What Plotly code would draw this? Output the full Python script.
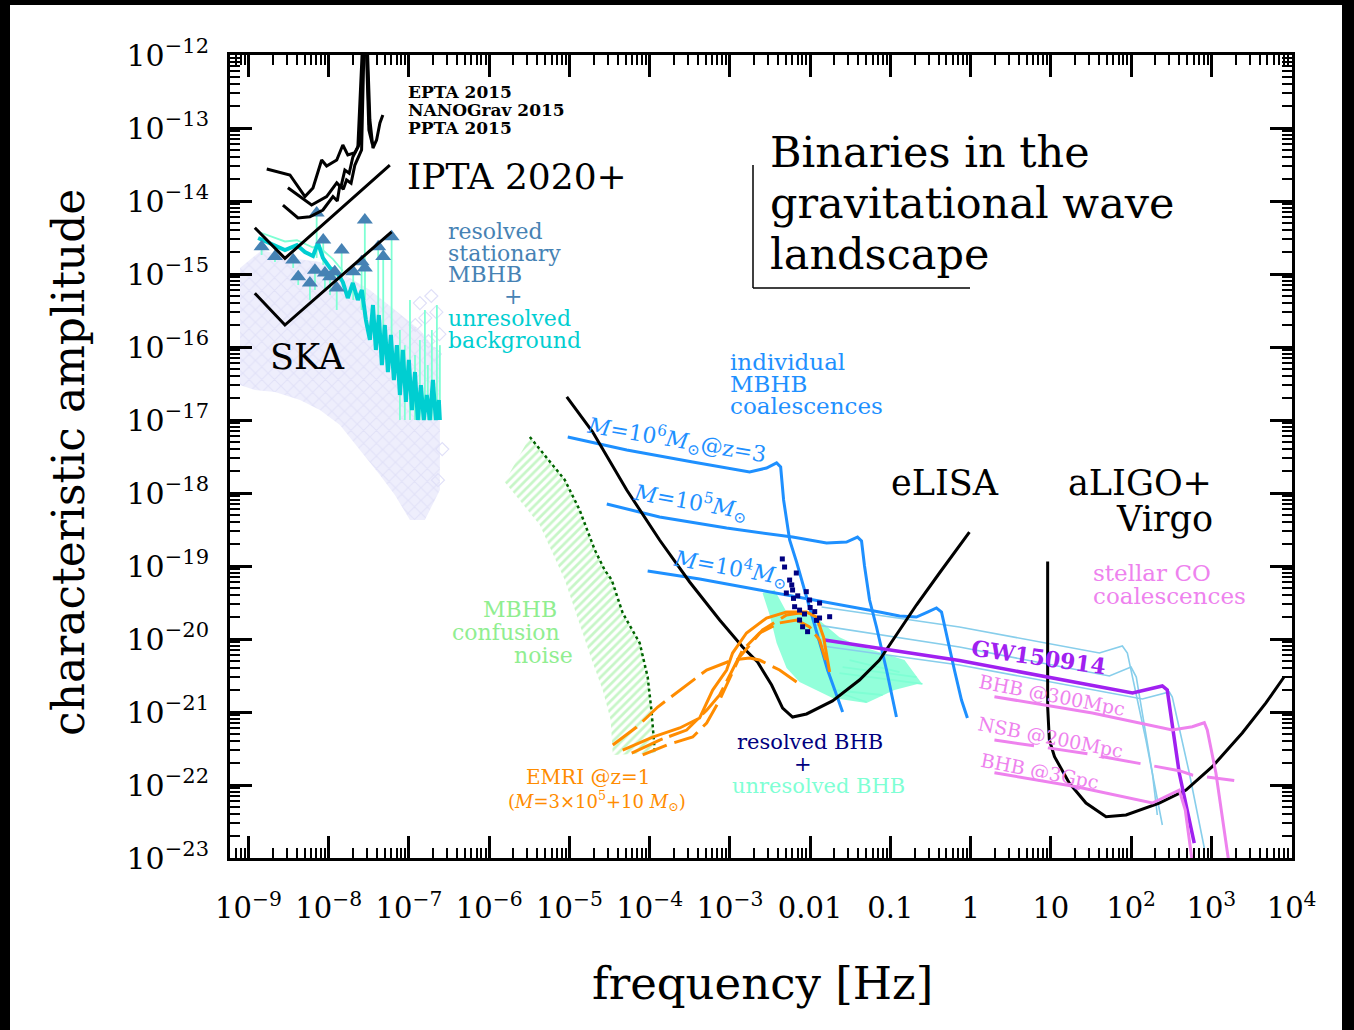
import plotly.graph_objects as go

W, H = 1354, 1030
L, R, T, B = 230, 62, 55, 172
FONT = "DejaVu Serif"

# ---------------- axis ticks ----------------
x_tick_vals = [1e-9, 1e-8, 1e-7, 1e-6, 1e-5, 1e-4, 1e-3, 1e-2, 1e-1, 1, 10, 100, 1e3, 1e4]
x_tick_text = ["10<sup>−9</sup>", "10<sup>−8</sup>", "10<sup>−7</sup>", "10<sup>−6</sup>", "10<sup>−5</sup>",
               "10<sup>−4</sup>", "10<sup>−3</sup>", "0.01", "0.1", "1", "10", "10<sup>2</sup>",
               "10<sup>3</sup>", "10<sup>4</sup>"]
y_tick_vals = [1e-12, 1e-13, 1e-14, 1e-15, 1e-16, 1e-17, 1e-18, 1e-19, 1e-20, 1e-21, 1e-22, 1e-23]
y_tick_text = ["10<sup>−12</sup>", "10<sup>−13</sup>", "10<sup>−14</sup>", "10<sup>−15</sup>", "10<sup>−16</sup>",
               "10<sup>−17</sup>", "10<sup>−18</sup>", "10<sup>−19</sup>", "10<sup>−20</sup>", "10<sup>−21</sup>",
               "10<sup>−22</sup>", "10<sup>−23</sup>"]

# ---------------- PTA limits ----------------
epta_f = [1.69e-9, 3.29e-9, 5.06e-9, 6.37e-9, 8.17e-9, 9.42e-9, 1.26e-8, 1.50e-8, 1.73e-8, 2.12e-8,
          2.45e-8, 2.75e-8, 2.99e-8, 3.26e-8, 3.56e-8, 3.95e-8, 4.35e-8, 4.73e-8]
epta_h = [2.74e-14, 2.27e-14, 1.15e-14, 1.51e-14, 3.65e-14, 3.02e-14, 3.65e-14, 5.85e-14, 4.27e-14, 4.59e-14,
          6.22e-14, 2e-12, 2e-12, 1.29e-13, 5.32e-14, 6.85e-14, 1.17e-13, 1.51e-13]
nanograv_f = [3.10e-9, 6.12e-9, 9.42e-9, 1.26e-8, 1.42e-8, 1.59e-8, 1.80e-8, 2.00e-8, 2.31e-8, 2.68e-8, 2.90e-8, 3.17e-8, 3.5e-8]
nanograv_h = [1.52e-14, 8.81e-15, 1.15e-14, 1.77e-14, 1.55e-14, 2.66e-14, 2.4e-14, 4.01e-14, 5.50e-14, 2e-12, 2e-12, 9.4e-14, 6.0e-14]
ppta_f = [2.69e-9, 4.14e-9, 5.83e-9, 8.47e-9, 1.13e-8, 1.28e-8, 1.38e-8, 1.52e-8, 1.67e-8, 1.90e-8, 2.12e-8, 2.57e-8, 2.78e-8, 2.95e-8, 3.2e-8]
ppta_h = [8.81e-15, 5.85e-15, 6.09e-15, 7.53e-15, 1.15e-14, 1.0e-14, 1.66e-14, 1.45e-14, 1.94e-14, 1.75e-14, 3.11e-14, 5.0e-14, 2e-12, 2e-12, 1.1e-13]

ipta_f = [1.20e-9, 2.85e-9, 5.78e-8]
ipta_h = [4.31e-15, 1.64e-15, 3.11e-14]
ska_f = [1.20e-9, 2.85e-9, 6.08e-8]
ska_h = [5.45e-16, 2.0e-16, 3.79e-15]

# ---------------- PTA-band MBHB population ----------------
cloud_f = [7.85e-10, 1.47e-9, 3.29e-9, 7.78e-9, 1.59e-8, 3.26e-8, 6.68e-8, 1.37e-7, 2.43e-7,
           2.43e-7, 1.58e-7, 1.03e-7, 6.68e-8, 4.35e-8, 2.45e-8, 1.38e-8, 7.78e-9, 4.39e-9, 2.14e-9, 1.20e-9, 7.85e-10]
cloud_h = [1.21e-15, 2.13e-15, 1.66e-15, 1.46e-15, 9.7e-16, 6.04e-16, 3.21e-16, 1.71e-16, 7.76e-17,
           1.10e-18, 4.27e-19, 4.27e-19, 9.4e-19, 1.77e-18, 3.88e-18, 8.55e-18, 1.37e-17, 1.88e-17, 2.42e-17, 2.58e-17, 3.01e-17]
diam_f = [1.2e-7, 1.37e-7, 1.6e-7, 1.9e-7, 2.2e-7, 2.4e-7, 2.1e-7, 1.75e-7, 2.6e-7, 2.3e-7]
diam_h = [2.0e-16, 4.0e-16, 2.5e-16, 5.0e-16, 3.0e-16, 1.5e-16, 8.0e-17, 1.2e-16, 4e-18, 1.5e-18]

bkg_f = [1.32e-9, 1.85e-9, 2.85e-9, 4.02e-9, 5.06e-9, 6.37e-9, 7.35e-9, 8.47e-9, 1.04e-8, 1.26e-8, 1.50e-8,
         1.73e-8, 2.0e-8, 2.31e-8, 2.59e-8, 2.91e-8, 3.26e-8, 3.56e-8, 3.87e-8, 4.22e-8, 4.60e-8, 5.01e-8,
         5.47e-8, 5.96e-8, 6.49e-8, 7.08e-8, 7.71e-8, 8.40e-8, 9.16e-8, 9.98e-8, 1.09e-7, 1.19e-7, 1.29e-7,
         1.41e-7, 1.53e-7, 1.67e-7, 1.82e-7, 1.99e-7, 2.16e-7, 2.36e-7, 2.43e-7]
bkg_h = [3.11e-15, 2.66e-15, 2.13e-15, 2.49e-15, 2.0e-15, 1.76e-15, 2.66e-15, 1.66e-15, 1.21e-15, 1.06e-15, 7.76e-16,
         4.69e-16, 7.53e-16, 4.41e-16, 6.04e-16, 2.34e-16, 1.25e-16, 3.76e-16, 9.10e-17, 2.74e-16, 5.66e-17, 2.00e-16,
         4.54e-17, 1.46e-16, 3.53e-17, 1.06e-16, 2.20e-17, 9.10e-17, 1.77e-17, 6.64e-17, 1.37e-17, 4.54e-17, 1e-17,
         3.01e-17, 1e-17, 2.20e-17, 1e-17, 3.53e-17, 1e-17, 1.88e-17, 1e-17]
bkg_thin_f = [1.32e-9, 2.85e-9, 4.02e-9, 6.37e-9, 7.35e-9, 8.97e-9, 1.13e-8, 1.5e-8]
bkg_thin_h = [3.79e-15, 2.79e-15, 2.9e-15, 2.3e-15, 2.5e-15, 2.0e-15, 1.6e-15, 1.1e-15]

tri_f = [1.46e-9, 2.14e-9, 3.61e-9, 4.17e-9, 5.83e-9, 6.74e-9, 7.08e-9, 8.55e-9, 8.97e-9, 1.04e-8,
         1.19e-8, 1.26e-8, 1.45e-8, 2.02e-8, 2.57e-8, 2.82e-8, 2.82e-8, 4.14e-8, 4.78e-8, 6.08e-8]
tri_h = [2.37e-15, 1.73e-15, 1.56e-15, 9.2e-16, 7.53e-16, 1.13e-15, 6.85e-15, 2.92e-15, 1.03e-15, 9.2e-16,
         1.07e-15, 6.42e-16, 2.13e-15, 1.07e-15, 1.47e-15, 5.5e-15, 1.21e-15, 2.37e-15, 1.73e-15, 3.24e-15]
tri_low = [1.82e-15, 1.46e-15, 1.21e-15, 7.06e-16, 4.41e-16, 6.04e-16, 1.66e-15, 1.33e-15, 6.04e-16, 5.15e-16,
           6.04e-16, 3.21e-16, 8.28e-16, 4.41e-16, 3.21e-16, 4.41e-16, 4.41e-16, 1.25e-16, 6.64e-17, 1.25e-16]
spike_f = [7.71e-8, 8.89e-8, 1.03e-7, 1.19e-7, 1.37e-7, 1.58e-7, 1.72e-7, 1.93e-7, 2.23e-7, 2.43e-7]
spike_top = [1.71e-16, 1.06e-16, 4.41e-16, 7.76e-17, 1.25e-16, 3.21e-16, 5.66e-17, 1.71e-16, 3.76e-16, 1.06e-16]
spike_floor = 1e-17

# ---------------- MBHB confusion noise ----------------
conf_right_f = [3.21e-6, 4.93e-6, 8.75e-6, 1.34e-5, 2.07e-5, 2.75e-5, 3.37e-5, 4.61e-5, 7.51e-5, 9.45e-5, 1.06e-4, 1.16e-4]
conf_right_h = [5.85e-18, 3.32e-18, 1.51e-18, 5.85e-19, 1.66e-19, 8.81e-20, 6.42e-20, 2.27e-20, 8.81e-21, 3.01e-21, 9.7e-22, 2.74e-22]
conf_left_f = [1.56e-6, 2.40e-6, 4.27e-6, 8.75e-6, 1.34e-5, 1.90e-5, 2.60e-5, 3.27e-5, 3.47e-5]
conf_left_h = [1.42e-18, 8.02e-19, 3.65e-19, 6.42e-20, 1.66e-20, 5.15e-21, 2.0e-21, 7.76e-22, 2.58e-22]

# ---------------- eLISA / aLIGO sensitivity ----------------
elisa_f = [9.27e-6, 1.95e-5, 5.18e-5, 1.33e-4, 3.15e-4, 7.45e-4, 1.44e-3, 2.21e-3, 3.31e-3, 4.54e-3,
           6.04e-3, 9.02e-3, 1.90e-2, 4.12e-2, 7.31e-2, 0.130, 0.211, 0.409, 0.966]
elisa_h = [2.07e-17, 6.85e-18, 1.10e-18, 2.27e-19, 6.04e-20, 1.82e-20, 7.76e-21, 4.84e-21, 2.34e-21, 1.13e-21,
           8.53e-22, 9.4e-22, 1.42e-21, 2.74e-21, 5.15e-21, 1.33e-20, 2.92e-20, 8.02e-20, 2.92e-19]
aligo_f = [9.12, 9.12, 9.57, 11.1, 17.0, 27.4, 48.7, 86.5, 224, 483, 1026, 2427, 4786, 8091]
aligo_h = [1.15e-19, 1.18e-21, 4.13e-22, 2.44e-22, 1.06e-22, 5.66e-23, 3.68e-23, 3.88e-23, 5.66e-23, 8.53e-23,
           1.78e-22, 5.15e-22, 1.33e-21, 3.04e-21]

# ---------------- individual MBHB coalescences ----------------
mbhb6_f = [9.53e-6, 5.18e-5, 3.44e-4, 9.1e-4, 1.76e-3, 2.86e-3, 3.82e-3, 4.29e-3, 4.67e-3, 5.55e-3, 6.78e-3, 8.51e-3, 1.14e-2, 1.65e-2, 2.54e-2]
mbhb6_h = [5.85e-18, 3.88e-18, 2.66e-18, 2.2e-18, 1.94e-18, 2.2e-18, 2.58e-18, 2.27e-18, 8.02e-19, 2.27e-19, 1.13e-19, 4.69e-20, 1.56e-20, 3.76e-21, 1.0e-21]
mbhb5_f = [2.92e-5, 1.33e-4, 9.1e-4, 6.04e-3, 1.60e-2, 2.84e-2, 3.89e-2, 4.37e-2, 4.76e-2, 5.50e-2, 6.71e-2, 8.95e-2, 0.119]
mbhb5_h = [7.06e-19, 4.69e-19, 3.31e-19, 2.49e-19, 2.07e-19, 2.13e-19, 2.49e-19, 2.2e-19, 1.0e-19, 3.42e-20, 1.46e-20, 3.76e-21, 8.53e-22]
mbhb4_f = [9.44e-5, 4.2e-4, 2.34e-3, 1.90e-2, 7.31e-2, 0.130, 0.211, 0.290, 0.375, 0.434, 0.514, 0.628, 0.769, 0.912]
mbhb4_h = [8.53e-20, 6.64e-20, 4.69e-20, 3.11e-20, 2.34e-20, 2.07e-20, 2.0e-20, 2.34e-20, 2.66e-20, 2.34e-20, 9.68e-21, 3.76e-21, 1.46e-21, 8.28e-22]

# ---------------- BHB (LISA band) ----------------
ubhb_f = [2.55e-3, 3.61e-3, 5.08e-3, 9.84e-3, 1.43e-2, 2.32e-2, 3.78e-2, 7.31e-2, 0.150, 0.244,
          0.112, 5.05e-2, 1.90e-2, 7.38e-3, 5.08e-3, 3.82e-3, 3.13e-3]
ubhb_h = [4.27e-20, 4.69e-20, 2.34e-20, 2.34e-20, 1.66e-20, 1.06e-20, 8.28e-21, 6.64e-21, 5.15e-21, 2.49e-21,
          2.0e-21, 1.33e-21, 1.56e-21, 2.58e-21, 4.01e-21, 8.81e-21, 2.13e-20]
streak_f0 = [2.54e-2, 2.32e-2, 1.90e-2, 2.32e-2, 3.10e-2]
streak_f1 = [0.211, 0.251, 7.98e-2, 5.05e-2, 0.130]
streak_h0 = [4.13e-21, 3.42e-21, 2.0e-21, 1.82e-21, 5.15e-21]
streak_h1 = [3.01e-21, 2.42e-21, 1.71e-21, 1.37e-21, 3.53e-21]
rbhb_f = [4.80e-3, 5.55e-3, 6.72e-3, 5.05e-3, 6.04e-3, 6.40e-3, 7.38e-3, 8.95e-3, 9.84e-3, 1.14e-2, 1.31e-2,
          1.75e-2, 8.05e-3, 9.29e-3, 7.38e-3, 1.31e-2, 6.2e-3, 7.0e-3, 1.0e-2, 8.5e-3, 1.2e-2, 4.5e-3, 5.9e-3]
rbhb_h = [9.68e-20, 6.42e-20, 8.02e-20, 4.27e-20, 4.69e-20, 2.77e-20, 2.49e-20, 4.45e-20, 3.42e-20, 2.37e-20, 1.94e-20,
          2.02e-20, 1.47e-20, 1.26e-20, 1.82e-20, 3.11e-20, 3.6e-20, 3.9e-20, 2.7e-20, 2.2e-20, 1.8e-20, 1.25e-19, 5.5e-20]

# ---------------- EMRIs ----------------
emri1_f = [3.47e-5, 6.89e-5, 1.26e-4, 2.37e-4, 5.13e-4, 1.08e-3, 1.76e-3, 2.34e-3, 4.16e-3, 6.78e-3]
emri1_h = [3.53e-22, 6.22e-22, 1.17e-21, 2.0e-21, 3.76e-21, 5.15e-21, 5.50e-21, 5.15e-21, 3.76e-21, 2.58e-21]
emri2_f = [4.61e-5, 1.09e-4, 2.37e-4, 4.20e-4, 6.10e-4, 9.10e-4, 1.08e-3, 1.61e-3, 2.86e-3, 5.08e-3, 9.02e-3, 1.20e-2, 1.47e-2, 1.75e-2]
emri2_h = [3.01e-22, 4.54e-22, 6.04e-22, 8.28e-22, 2.0e-21, 3.76e-21, 6.42e-21, 1.21e-20, 1.94e-20, 2.34e-20, 2.34e-20, 2.0e-20, 1.06e-20, 3.53e-21]
emri3_f = [5.97e-5, 1.33e-4, 2.89e-4, 5.13e-4, 7.45e-4, 1.44e-3, 2.34e-3, 4.16e-3, 6.78e-3, 9.84e-3, 1.31e-2, 1.56e-2]
emri3_h = [2.74e-22, 4.13e-22, 5.66e-22, 1.06e-21, 1.71e-21, 7.06e-21, 1.21e-20, 1.66e-20, 1.82e-20, 1.46e-20, 9.68e-21, 5.15e-21]
emri4_f = [8.18e-5, 1.63e-4, 3.44e-4, 5.13e-4, 7.45e-4, 1.32e-3, 2.55e-3, 5.08e-3, 7.38e-3, 1.07e-2]
emri4_h = [2.58e-22, 3.53e-22, 4.54e-22, 7.06e-22, 1.46e-21, 5.66e-21, 1.33e-20, 2.13e-20, 2.27e-20, 2.0e-20]

# ---------------- stellar compact-object coalescences ----------------
lb1_f = [1.39e-2, 0.726, 40.2, 77.8, 89.8, 153, 245]
lb1_h = [2.74e-20, 1.46e-20, 6.42e-21, 8.02e-21, 6.42e-21, 4.13e-22, 2.83e-23]
lb2_f = [1.19e-2, 0.726, 53.6, 99.8, 116, 184, 212]
lb2_h = [1.56e-20, 7.76e-21, 3.11e-21, 4.13e-21, 3.01e-21, 1.46e-22, 3.88e-23]
lb3_f = [1.42e-2, 0.726, 138, 299, 326, 531, 817]
lb3_h = [8.02e-21, 4.4e-21, 1.51e-21, 1.88e-21, 1.60e-21, 1.46e-22, 1.37e-23]
gw_f = [1.51e-2, 0.726, 104, 245, 282, 398, 612]
gw_h = [9.68e-21, 5.07e-21, 1.82e-21, 2.27e-21, 2.0e-21, 1.46e-22, 1.60e-23]
bhb300_f = [1.98, 32.9, 326, 578, 817, 889, 1140, 1671]
bhb300_h = [1.62e-21, 9.68e-22, 5.66e-22, 6.28e-22, 7.13e-22, 5.66e-22, 1.46e-22, 8e-24]
nsb200_f = [1.98, 6.24, 30.2, 46.3, 398, 578, 1928]
nsb200_h = [4.13e-22, 3.42e-22, 2.66e-22, 2.42e-22, 1.57e-22, 1.37e-22, 1.15e-22]
bhb3g_f = [1.98, 20.8, 184, 326, 398, 473, 578]
bhb3g_h = [1.47e-22, 9.46e-23, 5.66e-23, 7.76e-23, 8.53e-23, 4.54e-23, 8.9e-24]

# ---------------- figure ----------------
fig = go.Figure()


def add_line(f, h, color, width=3.0, dash="solid"):
    fig.add_trace(go.Scatter(x=f, y=h, mode="lines", line=dict(color=color, width=width, dash=dash),
                             hoverinfo="skip", showlegend=False))


def add_fill(f, h, color, pattern=None):
    fig.add_trace(go.Scatter(x=f, y=h, mode="lines", fill="toself", fillcolor=color, line=dict(width=0, color=color),
                             fillpattern=pattern, hoverinfo="skip", showlegend=False))


def segs(x0, x1, y0, y1):
    xs, ys = [], []
    for a, b, c, d in zip(x0, x1, y0, y1):
        xs += [a, b, None]
        ys += [c, d, None]
    return xs, ys


# PTA band
add_fill(cloud_f, cloud_h, "#ececfb",
         pattern=dict(shape="x", fgcolor="#d6d6f4", bgcolor="#eeeefc", size=9, solidity=0.25))
fig.add_trace(go.Scatter(x=diam_f, y=diam_h, mode="markers", hoverinfo="skip", showlegend=False,
                         marker=dict(symbol="diamond-open", size=10, color="#e0e0f8", line=dict(width=1.2))))
sx, sy = segs(spike_f, spike_f, [spike_floor] * len(spike_f), spike_top)
add_line(sx, sy, "#7fffd4", 1.8)
tx, ty = segs(tri_f, tri_f, tri_low, tri_h)
add_line(tx, ty, "#7fffd4", 1.8)
add_line(bkg_thin_f, bkg_thin_h, "#7fffd4", 1.8)
add_line(bkg_f, bkg_h, "#00ced1", 4)
fig.add_trace(go.Scatter(x=tri_f, y=tri_h, mode="markers", hoverinfo="skip", showlegend=False,
                         marker=dict(symbol="triangle-up", size=14, color="#4682b4")))
add_line(ska_f, ska_h, "black", 3)
add_line(ipta_f, ipta_h, "black", 3)
add_line(epta_f, epta_h, "black", 3)
add_line(nanograv_f, nanograv_h, "black", 3)
add_line(ppta_f, ppta_h, "black", 3)

# confusion noise band
add_fill(conf_right_f + conf_left_f[::-1], conf_right_h + conf_left_h[::-1], "white",
         pattern=dict(shape="/", fgcolor="#90ee90", bgcolor="white", size=6, solidity=0.45))
add_line(conf_right_f, conf_right_h, "#006400", 2.5, "dot")

# BHB population
add_fill(ubhb_f, ubhb_h, "rgba(127,255,212,0.85)")
stx, sty = segs(streak_f0, streak_f1, streak_h0, streak_h1)
add_line(stx, sty, "#7fffd4", 1.8)

# stellar coalescences
add_line(lb1_f, lb1_h, "#87ceeb", 1.6)
add_line(lb2_f, lb2_h, "#87ceeb", 1.6)
add_line(lb3_f, lb3_h, "#87ceeb", 1.6)

# MBHB tracks
add_line(mbhb6_f, mbhb6_h, "#1e90ff", 3)
add_line(mbhb5_f, mbhb5_h, "#1e90ff", 3)
add_line(mbhb4_f, mbhb4_h, "#1e90ff", 3)

# detectors
add_line(elisa_f, elisa_h, "black", 3)
add_line(aligo_f, aligo_h, "black", 3)

add_line(gw_f, gw_h, "#a020f0", 3.5)
add_line(bhb300_f, bhb300_h, "#ee82ee", 3)
add_line(nsb200_f, nsb200_h, "#ee82ee", 3, "40px,14px")
add_line(bhb3g_f, bhb3g_h, "#ee82ee", 3)

# EMRIs
add_line(emri1_f, emri1_h, "#ff8c00", 3, "30px,8px")
add_line(emri2_f, emri2_h, "#ff8c00", 3)
add_line(emri3_f, emri3_h, "#ff8c00", 3, "34px,7px")
add_line(emri4_f, emri4_h, "#ff8c00", 3, "26px,8px")

fig.add_trace(go.Scatter(x=rbhb_f, y=rbhb_h, mode="markers", hoverinfo="skip", showlegend=False,
                         marker=dict(symbol="square", size=5, color="#000080")))


# ---------------- text ----------------
def P(px, py):
    return (px - L) / (W - L - R), (H - B - py) / (H - T - B)


def text(s, px, py, size, color="black", anchor="left", angle=0):
    x, y = P(px, py)
    fig.add_annotation(x=x, y=y, xref="paper", yref="paper", text=s, showarrow=False, xanchor=anchor,
                       yanchor="middle", textangle=angle, font=dict(family=FONT, size=size, color=color))


text("<b>EPTA 2015</b>", 406, 92, 17)
text("<b>NANOGrav 2015</b>", 406, 110, 17)
text("<b>PPTA 2015</b>", 406, 128, 17)
text("IPTA 2020+", 405, 176, 36)
text("SKA", 268, 357, 35)
text("resolved", 446, 231, 22, "#4682b4")
text("stationary", 446, 253, 22, "#4682b4")
text("MBHB", 446, 274, 22, "#4682b4")
text("+", 513, 296, 22, "#4682b4", "center")
text("unresolved", 446, 318, 22, "#00ced1")
text("background", 446, 340, 22, "#00ced1")

text("Binaries in the", 768, 152, 43)
text("gravitational wave", 768, 203, 43)
text("landscape", 768, 254, 43)

text("individual", 728, 362, 23, "#1e90ff")
text("MBHB", 728, 384, 23, "#1e90ff")
text("coalescences", 728, 406, 23, "#1e90ff")
text("<i>M</i>=10<sup>6</sup><i>M</i><sub>⊙</sub>@z=3", 676, 440, 22, "#1e90ff", "center", 9.5)
text("<i>M</i>=10<sup>5</sup><i>M</i><sub>⊙</sub>", 690, 502, 22, "#1e90ff", "center", 10)
text("<i>M</i>=10<sup>4</sup><i>M</i><sub>⊙</sub>", 730, 568, 22, "#1e90ff", "center", 10)

text("eLISA", 889, 483, 35)
text("aLIGO+", 1066, 483, 35)
text("Virgo", 1114, 519, 35)
text("stellar CO", 1091, 573, 23, "#ee82ee")
text("coalescences", 1091, 596, 23, "#ee82ee")
text("<b>GW150914</b>", 1038, 657, 22, "#a020f0", "center", 8)
text("BHB @300Mpc", 1052, 695, 19, "#ee82ee", "center", 11)
text("NSB @200Mpc", 1050, 737, 19, "#ee82ee", "center", 11)
text("BHB @3Gpc", 1040, 771, 19, "#ee82ee", "center", 11)

text("MBHB", 520, 609, 22, "#90ee90", "center")
text("confusion", 506, 632, 22, "#90ee90", "center")
text("noise", 543, 655, 22, "#90ee90", "center")
text("EMRI @z=1", 588, 777, 20, "#ff8c00", "center")
text("(<i>M</i>=3×10<sup>5</sup>+10 <i>M</i><sub>⊙</sub>)", 597, 801, 18, "#ff8c00", "center")
text("resolved BHB", 810, 742, 21, "#000080", "center")
text("+", 803, 764, 21, "#000080", "center")
text("unresolved BHB", 818, 786, 21, "#7fffd4", "center")

text("characteristic amplitude", 68, 463, 44, "black", "center", -90)
text("frequency [Hz]", 762, 983, 45, "black", "center")

# bracket around the title block and outer frame
bx0, by0 = P(753, 165)
bx1, by1 = P(753, 288)
bx2, _ = P(970, 288)
fig.add_shape(type="line", xref="paper", yref="paper", x0=bx0, y0=by0, x1=bx1, y1=by1, line=dict(color="black", width=1.5))
fig.add_shape(type="line", xref="paper", yref="paper", x0=bx1, y0=by1, x1=bx2, y1=by1, line=dict(color="black", width=1.5))
fx0, fy1 = P(10, 5)
fx1, fy0 = P(1342, 1040)
fig.add_shape(type="rect", xref="paper", yref="paper", x0=fx0, y0=fy0, x1=fx1, y1=fy1, layer="below",
              fillcolor="white", line=dict(width=0))

minor_x = [m * 10.0 ** e for e in range(-10, 5) for m in range(2, 10)]
minor_y = [m * 10.0 ** e for e in range(-24, -11) for m in range(2, 10)]

axis_common = dict(type="log", showline=True, linecolor="black", linewidth=3, mirror="allticks", ticks="inside",
                   ticklen=22, tickwidth=2.5, tickcolor="black", showgrid=False, zeroline=False)
fig.update_xaxes(range=[-9.23, 4.005], tickmode="array", tickvals=x_tick_vals, ticktext=x_tick_text,
                 ticklabelstandoff=22, tickfont=dict(family=FONT, size=29, color="black"),
                 minor=dict(tickmode="array", tickvals=minor_x, ticks="inside", ticklen=10, tickwidth=2,
                            tickcolor="black", showgrid=False), **axis_common)
fig.update_yaxes(range=[-23, -12], tickmode="array", tickvals=y_tick_vals, ticktext=y_tick_text,
                 ticklabelstandoff=12, tickfont=dict(family=FONT, size=30, color="black"),
                 minor=dict(tickmode="array", tickvals=minor_y, ticks="inside", ticklen=10, tickwidth=2,
                            tickcolor="black", showgrid=False), **axis_common)

fig.update_layout(width=W, height=H, margin=dict(l=L, r=R, t=T, b=B), paper_bgcolor="black",
                  plot_bgcolor="white", showlegend=False)

fig.write_html("out.html")
